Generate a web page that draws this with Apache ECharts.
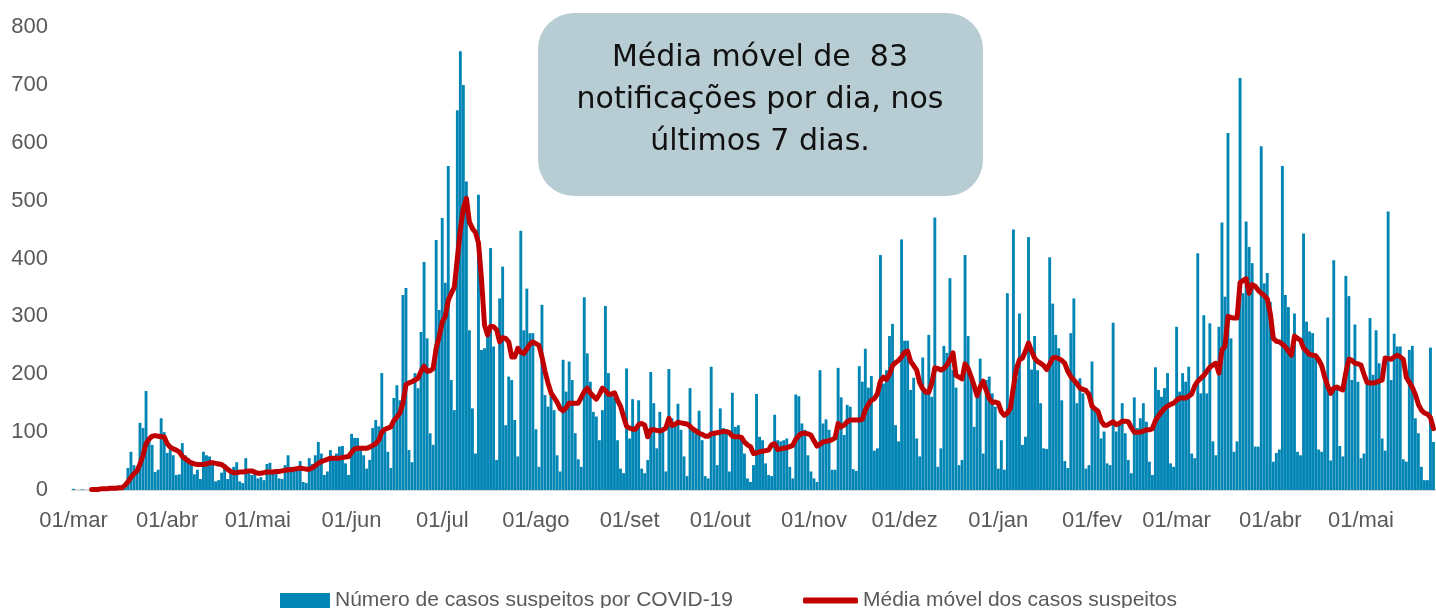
<!DOCTYPE html>
<html>
<head>
<meta charset="utf-8">
<script src="https://cdn.jsdelivr.net/npm/echarts@6/dist/echarts.min.js"></script>
<style>
html,body{margin:0;padding:0;background:#ffffff;}
#chart{width:1436px;height:608px;}
</style>
</head>
<body>
<div id="chart"></div>
<script>
// Daily series start on 01/03/2020 and run to 25/05/2021
const startYear = 2020, startMonth = 2, startDay = 1;
const monthNames = ['jan','fev','mar','abr','mai','jun','jul','ago','set','out','nov','dez'];
const barName = 'Número de casos suspeitos por COVID-19';
const lineName = 'Média móvel dos casos suspeitos';
const boxText = 'Média móvel de  83\nnotificações por dia, nos\núltimos 7 dias.';

const dailyCases = [
  // mar/2020
  2,0,0,1,0,0,1,0,1,0,2,1,2,3,2,3,4,8,38,66,43,30,116,107,171,83,78,31,35,124,100,
  // abr/2020
  64,70,60,26,27,81,60,55,45,27,35,19,66,60,58,50,15,17,30,45,19,35,40,48,15,12,55,29,26,30,
  // mai/2020
  20,22,17,45,47,32,35,20,19,43,60,40,35,38,50,14,12,55,45,60,83,63,26,32,69,58,63,75,76,46,26,
  // jun/2020
  97,90,90,69,60,37,52,107,121,110,202,108,66,38,159,181,155,337,349,69,48,202,176,273,394,262,98,78,432,311,
  // jul/2020
  470,358,560,190,138,656,758,700,533,276,141,63,510,242,245,271,418,248,52,331,386,112,196,190,121,58,448,276,348,271,271,
  // ago/2020
  105,40,320,164,144,167,138,60,32,225,170,222,190,98,53,40,333,236,187,135,127,86,138,318,202,167,160,86,37,29,210,
  // set/2020
  89,157,104,155,37,29,52,204,150,72,135,101,32,209,124,109,149,104,58,24,176,104,98,137,86,24,20,213,98,43,
  // out/2020
  141,107,104,32,168,109,112,92,63,20,14,43,166,92,86,46,26,24,130,86,84,86,89,40,20,165,162,115,104,60,32,
  // nov/2020
  20,14,207,115,122,104,35,35,211,160,95,147,144,36,33,214,187,244,177,197,68,72,406,184,207,266,287,112,84,433,
  // dez/2020
  258,258,173,194,89,58,229,167,268,161,471,40,72,249,237,366,207,177,43,52,406,266,190,109,160,227,63,190,196,167,144,
  // jan/2021
  37,86,35,340,144,450,193,305,78,92,437,208,266,207,150,72,71,402,322,268,245,155,50,38,271,331,150,193,167,37,43,
  // fev/2021
  222,138,132,89,101,46,43,289,101,115,150,98,52,29,160,107,124,150,118,49,26,212,173,161,176,202,46,40,
  // mar/2021
  282,170,202,187,213,63,55,409,167,302,167,288,84,60,282,462,334,617,262,66,84,712,340,464,420,392,75,75,594,357,375,
  // abr/2021
  325,49,64,70,560,337,316,236,305,66,60,443,291,274,271,230,70,66,190,298,51,397,178,76,58,370,335,190,286,187,
  // mai/2021
  55,63,190,297,199,276,219,89,68,481,190,270,248,248,53,49,242,249,124,98,40,17,17,246,83
];

const movingAverage = [
  // mar/2020
  null,null,null,null,null,null,1,1,1,2,2,2,3,3,3,4,4,8,14,22,28,33,45,60,80,88,93,94,93,92,92,
  // abr/2020
  80,74,71,69,66,58,54,50,47,45,44,44,44,45,47,47,46,45,44,40,36,32,30,30,31,31,32,33,33,31,
  // mai/2020
  29,29,30,31,31,31,32,32,33,34,35,35,36,37,38,37,36,36,38,42,46,49,51,53,55,55,55,55,56,57,58,
  // jun/2020
  65,71,72,72,72,72,74,77,80,86,100,105,107,109,120,126,133,150,182,185,187,190,193,205,214,205,206,210,245,265,
  // jul/2020
  290,300,328,340,350,400,450,487,504,463,452,445,427,364,285,268,283,282,277,256,263,262,256,230,230,245,238,236,244,252,256,
  // ago/2020
  253,250,230,205,185,168,160,152,141,137,142,150,150,150,150,160,170,176,168,162,157,165,176,172,165,166,168,155,145,127,110,
  // set/2020
  107,105,105,113,115,112,92,104,104,103,102,104,107,124,112,113,117,116,115,114,110,105,102,98,96,93,93,97,98,99,
  // out/2020
  100,101,101,99,93,92,92,91,83,78,75,63,64,66,67,68,69,78,80,70,71,72,73,75,77,88,94,98,98,97,95,
  // nov/2020
  85,76,79,83,84,85,87,90,115,109,112,118,121,121,121,121,122,138,148,155,158,166,188,195,191,200,215,220,224,230,
  // dez/2020
  238,240,222,215,207,185,175,169,169,185,211,210,207,210,216,225,237,198,195,192,218,210,196,180,163,178,188,172,158,151,152,
  // jan/2021
  150,135,129,133,141,178,210,225,228,240,254,240,228,222,219,215,208,218,228,229,227,224,219,205,196,190,184,176,174,172,165,
  // fev/2021
  145,140,136,120,112,112,115,118,113,115,119,119,118,108,100,100,100,102,104,104,106,120,128,135,141,145,148,150,
  // mar/2021
  155,159,159,159,162,166,180,188,193,198,205,212,216,219,202,242,248,300,298,297,297,358,362,365,340,355,352,345,340,336,330,
  // abr/2021
  305,262,257,256,252,247,240,233,266,262,259,245,240,234,233,232,225,215,195,180,167,176,178,175,173,203,226,224,219,218,
  // mai/2021
  216,200,186,185,185,186,188,190,228,227,226,230,233,230,226,195,186,177,165,148,138,133,131,125,106
];

const yTicks = { min: 0, max: 800, step: 100 };

// date categories (one per day)
const categories = [];
for (let i = 0; i < dailyCases.length; i++) {
  const d = new Date(Date.UTC(startYear, startMonth, startDay + i));
  const mm = String(d.getUTCMonth() + 1).padStart(2, '0');
  const dd = String(d.getUTCDate()).padStart(2, '0');
  categories.push(d.getUTCFullYear() + '-' + mm + '-' + dd);
}

const FONT = 'Liberation Sans, Arial, sans-serif';
const chart = echarts.init(document.getElementById('chart'), null, { renderer: 'canvas' });
chart.setOption({
  animation: false,
  backgroundColor: '#ffffff',
  grid: { left: 72, right: 1, top: 27, bottom: 118, containLabel: false },
  xAxis: {
    type: 'category',
    data: categories,
    boundaryGap: true,
    axisLine: { show: true, lineStyle: { color: '#d9d9d9', width: 2 } },
    axisTick: { show: false },
    splitLine: { show: false },
    axisLabel: {
      interval: function (idx, val) { return val.slice(8) === '01'; },
      formatter: function (val) { return '01/' + monthNames[parseInt(val.slice(5, 7), 10) - 1]; },
      color: '#595959',
      fontSize: 22,
      fontFamily: FONT,
      margin: 20,
      hideOverlap: false
    }
  },
  yAxis: {
    type: 'value',
    min: yTicks.min,
    max: yTicks.max,
    interval: yTicks.step,
    axisLine: { show: false },
    axisTick: { show: false },
    splitLine: { show: false },
    axisLabel: { color: '#595959', fontSize: 22, fontFamily: FONT, margin: 24 }
  },
  legend: [
    {
      data: [{ name: barName, icon: 'rect' }],
      left: 275, top: 585,
      itemWidth: 50, itemHeight: 15,
      selectedMode: false,
      textStyle: { color: '#595959', fontSize: 21, fontFamily: FONT }
    },
    {
      data: [{ name: lineName, icon: 'roundRect' }],
      left: 798, top: 585,
      itemWidth: 55, itemHeight: 6,
      selectedMode: false,
      textStyle: { color: '#595959', fontSize: 21, fontFamily: FONT }
    }
  ],
  series: [
    {
      name: barName,
      type: 'bar',
      data: dailyCases,
      barCategoryGap: '5%',
      itemStyle: { color: '#0085b5' },
      z: 2
    },
    {
      name: lineName,
      type: 'line',
      data: movingAverage,
      showSymbol: false,
      symbol: 'none',
      connectNulls: false,
      lineStyle: { color: '#c00000', width: 5, cap: 'round', join: 'round' },
      itemStyle: { color: '#c00000' },
      z: 3
    }
  ],
  graphic: [
    {
      type: 'rect',
      left: 538, top: 13,
      shape: { width: 445, height: 183, r: 36 },
      style: { fill: '#b7cdd3' },
      z: 10
    },
    {
      type: 'text',
      x: 760, y: 100,
      style: {
        text: boxText,
        fontSize: 30,
        fontFamily: 'DejaVu Sans, sans-serif',
        fill: '#111111',
        align: 'center',
        verticalAlign: 'middle',
        lineHeight: 42
      },
      z: 11
    }
  ]
});
</script>
</body>
</html>
